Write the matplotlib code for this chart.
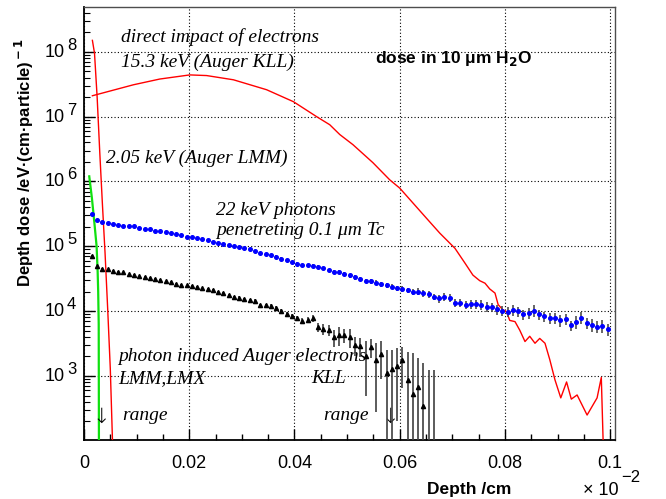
import numpy as np
import matplotlib
matplotlib.use("Agg")
import matplotlib.pyplot as plt
import matplotlib.transforms as mtransforms
from matplotlib.ticker import FixedLocator, MultipleLocator, LogLocator, NullFormatter

# direct impact of 15.3 keV electrons (Auger KLL), red
kll_x = [0.0016, 0.0094, 0.0144, 0.0201, 0.0233, 0.0284, 0.0347, 0.0398, 0.0442, 0.0467,
         0.0486, 0.0511, 0.0549, 0.0581, 0.0600, 0.0651, 0.0676, 0.0705, 0.0724, 0.0739,
         0.0752, 0.0762, 0.0771, 0.0781, 0.0787, 0.0796, 0.0803, 0.0809, 0.0819, 0.0828,
         0.0838, 0.0847, 0.0857, 0.0866, 0.0876, 0.0885, 0.0895, 0.0906, 0.0917, 0.0926,
         0.0937, 0.0956, 0.0975, 0.0983, 0.0990]
kll_dose = [2.1e7, 3.1e7, 3.8e7, 4.4e7, 4.3e7, 3.7e7, 2.6e7, 1.7e7, 1.0e7, 7.5e6,
            5.3e6, 3.7e6, 1.95e6, 1.06e6, 7.9e5, 2.7e5, 1.6e5, 9.3e4, 5.5e4, 3.6e4,
            2.95e4, 2.7e4, 2.2e4, 1.9e4, 1.26e4, 1.05e4, 9.8e3, 7.2e3, 6.9e3, 5.1e3,
            3.4e3, 4.1e3, 3.2e3, 3.8e3, 3.2e3, 1.8e3, 870, 460, 810, 440,
            510, 250, 460, 950, 10]

# direct impact of 2.05 keV electrons (Auger LMM), red
lmm_x = [0.0016, 0.002, 0.0025, 0.003, 0.0035, 0.004, 0.0045, 0.005, 0.0055]
lmm_dose = [1.5e8, 9.5e7, 2.0e7, 2.8e6, 4.5e5, 8e4, 1.1e4, 1.3e3, 60]

# photon induced Auger electrons LMM,LMX, green
plmm_x = [0.001, 0.0015, 0.002, 0.0024, 0.0026, 0.0027, 0.0028, 0.00285]
plmm_dose = [1.2e6, 5.6e5, 2.2e5, 1.0e5, 4.0e4, 2.0e4, 6.3e3, 30]

# 22 keV photons through 0.1 um Tc, blue (bins of 0.001 from 0.001)
photon_dose = [
    316000, 257000, 240000, 229000, 224000, 214000, 209000, 204000, 204000, 195000,
    186000, 182000, 174000, 170000, 166000, 162000, 155000, 151000, 141000, 138000,
    135000, 129000, 123000, 115000, 112000, 107000, 105000, 100000, 97700, 93300,
    91200, 85100, 77600, 75900, 74100, 69200, 64600, 61700, 57500, 53700,
    51300, 51300, 50100, 47900, 45700, 42700, 40700, 40700, 37200, 35500,
    33100, 31600, 29500, 28800, 27500, 26300, 25100, 24000, 22400, 21900,
    20900, 20000, 20000, 19100, 18200, 16600, 15800, 16600, 16200, 13500,
    13500, 12600, 12900, 12900, 12600, 11700, 11500, 10700, 10200, 9770,
    10500, 10000, 8910, 9330, 10200, 8910, 8320, 7940, 7940, 7240,
    7590, 6030, 6920, 7940, 6610, 6170, 5750, 5890, 5250]
photon_relerr = [
    0.012, 0.015, 0.015, 0.015, 0.015, 0.016, 0.016, 0.016, 0.016, 0.017,
    0.018, 0.018, 0.019, 0.019, 0.020, 0.020, 0.021, 0.021, 0.022, 0.022,
    0.025, 0.025, 0.027, 0.028, 0.030, 0.030, 0.032, 0.033, 0.035, 0.035,
    0.037, 0.038, 0.040, 0.040, 0.042, 0.044, 0.046, 0.048, 0.050, 0.052,
    0.055, 0.056, 0.058, 0.060, 0.062, 0.064, 0.066, 0.068, 0.070, 0.072,
    0.075, 0.078, 0.080, 0.082, 0.085, 0.088, 0.090, 0.092, 0.095, 0.098,
    0.10, 0.11, 0.12, 0.12, 0.13, 0.12, 0.14, 0.13, 0.14, 0.14,
    0.15, 0.14, 0.16, 0.15, 0.16, 0.17, 0.16, 0.17, 0.18, 0.17,
    0.20, 0.18, 0.19, 0.20, 0.21, 0.19, 0.18, 0.20, 0.19, 0.21,
    0.20, 0.19, 0.22, 0.21, 0.20, 0.22, 0.21, 0.23, 0.22]

# photon induced Auger electrons KLL, black triangles
pkll_dose = [
    70800, 49000, 44700, 44200, 41700, 40700, 39800, 37200, 36300, 34700,
    33900, 32400, 31600, 30200, 28800, 28200, 26300, 25700, 25100, 24500,
    23400, 22400, 21900, 20900, 20000, 19100, 17800, 16600, 16200, 15500,
    14800, 14500, 12300, 12300, 12000, 11200, 10000, 9120, 8320, 7760,
    7080, 7410, 7760, 5750, 5250, 5130, 3980, 4270, 4270, 3980,
    3020, 2880, 2000, 2820, 1780, 2190, 1120, 1260, 1450, 1740,
    870, 525, 680, 350, 20, 20]
pkll_err = [
    1400, 1000, 900, 900, 850, 850, 800, 800, 750, 750,
    700, 700, 700, 650, 650, 650, 650, 650, 650, 650,
    700, 700, 700, 700, 700, 700, 700, 700, 700, 700,
    700, 700, 700, 700, 700, 700, 700, 700, 700, 650,
    700, 800, 900, 900, 1000, 1000, 1200, 1400, 1000, 1300,
    1000, 950, 1500, 900, 1500, 1300, 1400, 1250, 1250, 1080,
    1470, 1720, 1220, 1250, 1210, 1210]

x_ticks = [0, 0.02, 0.04, 0.06, 0.08, 0.1]
x_tick_labels = ["0", "0.02", "0.04", "0.06", "0.08", "0.1"]
y_decades = [3, 4, 5, 6, 7, 8]

SANS = ["Liberation Sans", "DejaVu Sans"]
SERIF = ["Liberation Serif", "DejaVu Serif"]

fig = plt.figure(figsize=(6.66, 4.99), dpi=100)
ax = fig.add_axes([0.1261, 0.1182, 0.7973, 0.8677])
ax.set_yscale("log")
ax.set_xlim(0, 0.1009)
ax.set_ylim(103, 4.9e8)

ax.plot(kll_x, kll_dose, color="red", lw=1.0, zorder=3)
ax.plot(lmm_x, lmm_dose, color="red", lw=1.0, zorder=3)
ax.plot(plmm_x, plmm_dose, color="#10e010", lw=1.6, zorder=3)

# histogram bin centres
bx = 0.0015 + 0.001 * np.arange(len(photon_dose))
by = np.array(photon_dose, dtype=float)
be = by * np.array(photon_relerr)
ax.errorbar(bx, by, yerr=[np.minimum(be, by * 0.999), be], fmt="o", ms=2.6,
            color="blue", mec="blue", ecolor="0.3", elinewidth=1.2, capsize=0, zorder=4)

kx = 0.0015 + 0.001 * np.arange(len(pkll_dose))
ky = np.array(pkll_dose, dtype=float)
ke = np.array(pkll_err, dtype=float)
ax.errorbar(kx, ky, yerr=[np.minimum(ke, ky * 0.999), ke], fmt="^", ms=3.0,
            color="black", ecolor="0.25", elinewidth=1.2, capsize=0, zorder=4)

# axes styling
ax.xaxis.set_major_locator(FixedLocator(x_ticks))
ax.xaxis.set_minor_locator(MultipleLocator(0.005))
ax.set_xticklabels(x_tick_labels, fontsize=13, family=SANS)
ax.yaxis.set_major_locator(FixedLocator([10.0 ** d for d in y_decades]))
ax.yaxis.set_minor_locator(LogLocator(base=10, subs=np.arange(2, 10), numticks=20))
ax.yaxis.set_major_formatter(NullFormatter())
ax.yaxis.set_minor_formatter(NullFormatter())
ax.tick_params(which="both", direction="in", top=False, right=False, color="black")
ax.tick_params(axis="x", which="major", length=8, width=1, pad=10.5)
ax.tick_params(axis="x", which="minor", length=4, width=1)
ax.tick_params(axis="y", which="major", length=8, width=1)
ax.tick_params(axis="y", which="minor", length=4, width=0.8)
ax.grid(True, which="major", ls=(0, (1, 2)), color="black", lw=0.8)
for side in ["left", "bottom"]:
    ax.spines[side].set_linewidth(1.3)
for side in ["top", "right"]:
    ax.spines[side].set_linewidth(1.0)
    ax.spines[side].set_color("0.3")

# y tick labels written ROOT-style: "10" with a large exponent
ytrans = mtransforms.blended_transform_factory(ax.transAxes, ax.transData)
for d in y_decades:
    base_t = ytrans + mtransforms.ScaledTranslation(0, -0.05, fig.dpi_scale_trans)
    exp_t = ytrans + mtransforms.ScaledTranslation(0, 0.02, fig.dpi_scale_trans)
    ax.text(-0.036, 10.0 ** d, "10", ha="right", va="baseline", fontsize=13,
            family=SANS, transform=base_t)
    ax.text(-0.032, 10.0 ** d, str(d), ha="left", va="baseline", fontsize=12,
            family=SANS, transform=exp_t)

fig.text(0.037, 1 - 38 / 499, r"Depth dose /eV·(cm·particle)$^{\bf -1}$", rotation=90,
         ha="center", va="top", fontsize=12, weight="bold", family=SANS)
fig.text(427 / 666, 1 - 494 / 499, "Depth /cm", ha="left", va="baseline",
         fontsize=12.5, weight="bold", family=SANS)
fig.text(583 / 666, 1 - 495 / 499, "× 10", ha="left", va="baseline", fontsize=13, family=SANS)
fig.text(621 / 666, 1 - 482 / 499, "−2", ha="left", va="baseline", fontsize=12, family=SANS)

# annotations
lab = dict(transform=ax.transAxes, fontsize=14, style="italic", family=SERIF,
           ha="left", va="baseline")
ax.text(0.0697, 0.920, "direct impact of electrons", **lab)
ax.text(0.0697, 0.862, "15.3 keV (Auger KLL)", **lab)
ax.text(0.0414, 0.640, "2.05 keV (Auger LMM)", **lab)
ax.text(0.2486, 0.520, "22 keV photons", **lab)
ax.text(0.2486, 0.473, "penetreting 0.1 μm Tc", **lab)
ax.text(0.064, 0.183, "photon induced Auger electrons", **lab)
ax.text(0.064, 0.132, "LMM,LMX", **lab)
ax.text(0.4275, 0.132, "KLL", **lab)
ax.text(0.0716, 0.046, "range", **lab)
ax.text(0.450, 0.046, "range", **lab)
arrow = dict(transform=ax.transAxes, fontsize=15, family=["DejaVu Sans"],
             ha="center", va="baseline", fontweight="light")
ax.text(0.032, 0.040, "↓", **arrow)
ax.text(0.576, 0.040, "↓", **arrow)
ax.text(0.548, 0.870, r"dose in 10 μm H$_\mathbf{2}$O", transform=ax.transAxes,
        fontsize=12.5, weight="bold", family=SANS, ha="left", va="baseline")

fig.savefig("out.png", dpi=100)
